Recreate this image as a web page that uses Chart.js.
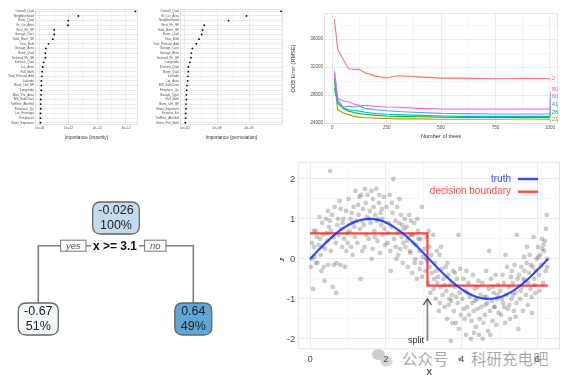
<!DOCTYPE html>
<html><head><meta charset="utf-8">
<script src="https://cdn.jsdelivr.net/npm/chart.js@4.4.1/dist/chart.umd.min.js"></script>
<style>
html,body{margin:0;padding:0;background:#fff;width:569px;height:379px;overflow:hidden;font-family:'Liberation Sans',Arial,sans-serif;}
.p{position:absolute;}
#wm{position:absolute;left:372px;top:347px;height:22px;display:flex;align-items:center;color:rgba(110,110,110,0.6);font-family:'Noto Sans CJK SC',sans-serif;font-size:15.5px;white-space:nowrap;z-index:0;}
.cv{z-index:1;}
.b1{position:absolute;width:13px;height:11px;border-radius:50%;background:rgba(130,130,130,0.4);left:0;top:2px;}
.b2{position:absolute;width:11px;height:9px;border-radius:50%;background:rgba(150,150,150,0.4);left:8px;top:9px;border:1px solid rgba(255,255,255,0.5);}
</style></head><body>
<div id="wm"><span style="position:relative;width:24px;height:22px;display:inline-block;"><span class="b1"></span><span class="b2"></span></span><span style="margin-left:6px">公众号 · 科研充电吧</span></div>
<div class="p" style="left:0;top:0;width:145px;height:140px"><canvas id="c1"></canvas></div>
<div class="p" style="left:145px;top:0;width:145px;height:140px"><canvas id="c2"></canvas></div>
<div class="p" style="left:290px;top:0;width:279px;height:140px"><canvas id="c3"></canvas></div>
<div class="p" style="left:0;top:150px;width:280px;height:229px"><canvas id="c4"></canvas></div>
<div class="p" style="left:280px;top:150px;width:289px;height:229px"><canvas id="c5"></canvas></div>
<script>
// ---------- DATA ----------
const impurityVars = ['Overall_Qual','Neighborhood','Exter_Qual','Gr_Liv_Area','First_Flr_SF','Garage_Cars','Total_Bsmt_SF','Year_Built','Garage_Area','Bsmt_Qual','Second_Flr_SF','Kitchen_Qual','Lot_Area','Full_Bath','Year_Remod_Add','Latitude','Bsmt_Unf_SF','Longitude','Mas_Vnr_Area','MS_SubClass','TotRms_AbvGrd','Fireplace_Qu','Lot_Frontage','Fireplaces','Bsmt_Exposure'];
const impurityVals = [3.33e12,1.34e12,0.99e12,0.98e12,0.50e12,0.50e12,0.45e12,0.30e12,0.21e12,0.19e12,0.19e12,0.13e12,0.10e12,0.08e12,0.07e12,0.05e12,0.05e12,0.05e12,0.04e12,0.03e12,0.03e12,0.03e12,0.02e12,0.02e12,0.02e12];
const impurityTicks = [0,1e12,2e12,3e12];
const impurityTickLabels = ['0e+00','1e+12','2e+12','3e+12'];

const permVars = ['Overall_Qual','Gr_Liv_Area','Neighborhood','First_Flr_SF','Total_Bsmt_SF','Exter_Qual','Year_Built','Year_Remod_Add','Garage_Cars','Garage_Area','Second_Flr_SF','Longitude','Kitchen_Qual','Bsmt_Qual','Latitude','Lot_Area','MS_SubClass','Fireplace_Qu','Garage_Type','Full_Bath','Bsmt_Unf_SF','Bsmt_Exposure','Exterior_1st','TotRms_AbvGrd','Bsmt_Full_Bath'];
const permVals = [1.50e9,9.6e8,6.8e8,3.0e8,2.76e8,2.6e8,2.19e8,1.77e8,1.15e8,0.99e8,0.94e8,0.78e8,0.52e8,0.52e8,0.47e8,0.42e8,0.31e8,0.26e8,0.21e8,0.21e8,0.16e8,0.16e8,0.10e8,0.10e8,0.05e8];
const permTicks = [0,5e8,1e9];
const permTickLabels = ['0e+00','5e+08','1e+09'];

const trees = [10,25,50,75,100,125,150,200,250,300,400,500,600,750,900,1000];
const mtryLabels = ['2','21','26','41','60','80'];
const oob_2  = [38850,34500,33080,31750,31650,31700,31190,30710,30480,30760,30600,30430,30420,30340,30400,30340];
const oob_21 = [29900,25890,25420,25200,24950,24850,24750,24700,24650,24600,24600,24550,24550,24550,24580,24550];
const oob_26 = [30380,26800,26100,25700,25500,25350,25250,25100,25000,24950,24900,24850,24800,24800,24800,24780];
const oob_41 = [28960,27000,26200,25900,25800,25700,25550,25350,25250,25200,25100,25000,24950,24950,24950,24950];
const oob_60 = [31180,27400,26300,26400,26300,26450,26100,25900,25750,25650,25500,25380,25350,25300,25300,25280];
const oob_80 = [31460,27600,27150,27050,26700,26550,26500,26400,26300,26250,26100,26000,26000,26000,26000,26000];
const oobLabelY = [30336,24470,25510,26650,27780,28820];
const oobTicksX = [0,250,500,750,1000];
const oobTicksY = [24000,28000,32000,36000];

const treeNodeValues = ['-0.026','-0.67','0.64'];
const treeNodePct = ['100%','51%','49%'];
const treeSplitText = 'x >= 3.1';

const scatterX = [
0.02,0.05,0.08,0.1,0.12,0.15,0.18,0.2,0.22,0.25,0.28,0.3,0.32,0.35,0.38,0.4,0.42,0.45,0.48,0.5,0.05,0.15,0.27,0.36,0.44,0.1,0.33,0.47,
0.52,0.55,0.58,0.6,0.62,0.65,0.68,0.7,0.72,0.75,0.78,0.8,0.82,0.85,0.88,0.9,0.92,0.95,0.98,0.55,0.63,0.74,0.86,0.96,0.53,0.69,0.81,0.99,
1.02,1.05,1.08,1.1,1.12,1.15,1.18,1.2,1.22,1.25,1.28,1.3,1.32,1.35,1.38,1.4,1.42,1.45,1.48,1.5,1.07,1.17,1.27,1.37,1.47,1.12,1.33,1.44,
1.52,1.55,1.58,1.6,1.62,1.65,1.68,1.7,1.72,1.75,1.78,1.8,1.82,1.85,1.88,1.9,1.92,1.95,1.98,1.56,1.66,1.76,1.86,1.96,1.63,1.83,1.71,1.91,
2.02,2.05,2.08,2.1,2.12,2.15,2.18,2.2,2.22,2.25,2.28,2.3,2.32,2.35,2.38,2.4,2.42,2.45,2.48,2.5,2.06,2.16,2.26,2.36,2.46,2.13,2.33,2.43,
2.52,2.55,2.58,2.6,2.62,2.65,2.68,2.7,2.72,2.75,2.78,2.8,2.82,2.85,2.88,2.9,2.92,2.95,2.98,2.56,2.66,2.76,2.86,2.96,2.63,2.83,2.93,2.71,
3.02,3.05,3.08,3.1,3.12,3.15,3.18,3.2,3.22,3.25,3.28,3.3,3.32,3.35,3.38,3.4,3.42,3.45,3.48,3.5,3.06,3.16,3.26,3.36,3.46,3.13,3.33,3.43,
3.52,3.55,3.58,3.6,3.62,3.65,3.68,3.7,3.72,3.75,3.78,3.8,3.82,3.85,3.88,3.9,3.92,3.95,3.98,3.56,3.66,3.76,3.86,3.96,3.63,3.73,3.83,3.93,
4.02,4.05,4.08,4.1,4.12,4.15,4.18,4.2,4.22,4.25,4.28,4.3,4.32,4.35,4.38,4.4,4.42,4.45,4.48,4.5,4.06,4.16,4.26,4.36,4.46,4.13,4.33,4.43,
4.52,4.55,4.58,4.6,4.62,4.65,4.68,4.7,4.72,4.75,4.78,4.8,4.82,4.85,4.88,4.9,4.92,4.95,4.98,4.56,4.66,4.76,4.86,4.96,4.63,4.73,4.83,4.93,
5.02,5.05,5.08,5.1,5.12,5.15,5.18,5.2,5.22,5.25,5.28,5.3,5.32,5.35,5.38,5.4,5.42,5.45,5.48,5.5,5.06,5.16,5.26,5.36,5.46,5.13,5.33,5.43,
5.52,5.55,5.58,5.6,5.62,5.65,5.68,5.7,5.72,5.75,5.78,5.8,5.82,5.85,5.88,5.9,5.92,5.95,5.98,5.56,5.66,5.76,5.86,5.96,5.63,5.73,5.83,5.93,
6.02,6.05,6.08,6.1,6.12,6.15,6.18,6.2,6.22,6.25,6.27,6.06,6.16,6.26,6.03,6.13,6.23];
const scatterY = [
-0.2,0.4,-0.75,0.3,0.05,0.7,0.55,-0.1,0.35,1.05,0.1,-0.3,0.9,0.6,-0.55,0.25,1.0,0.45,-0.15,0.8,0.0,-0.1,0.5,-0.2,0.65,0.7,0.3,1.2,
0.95,0.2,1.1,-0.7,0.55,1.3,0.4,-0.1,0.85,0.6,1.45,-0.15,0.75,0.3,1.0,0.5,-0.2,1.2,0.65,0.7,-0.15,1.0,0.9,0.2,2.2,-0.85,1.25,0.4,
1.5,0.7,0.3,1.15,0.9,1.3,0.55,1.7,0.95,0.4,1.1,1.55,0.75,1.6,0.2,1.25,0.85,1.75,0.6,1.05,1.0,0.8,1.35,0.95,1.4,0.1,-0.5,0.3,
1.6,0.5,1.2,0.9,1.7,0.25,1.3,0.7,1.1,1.75,0.45,1.0,1.4,0.15,0.85,1.25,0.6,1.55,0.35,1.0,1.5,0.95,1.15,0.75,0.0,1.6,0.55,1.0,
1.3,0.4,0.9,1.6,0.2,0.8,1.15,2.0,0.5,0.95,0.0,1.3,0.65,0.9,0.25,1.1,0.55,-0.1,0.75,1.0,0.65,1.4,0.3,1.5,0.4,-0.3,0.1,0.85,
0.3,0.8,-0.2,0.55,1.1,0.15,0.6,-0.35,0.4,0.9,0.0,0.35,-0.5,0.7,0.2,-0.25,0.5,1.3,0.05,0.45,0.95,-0.1,0.5,-0.45,0.2,1.0,-0.1,0.6,
0.25,-0.3,0.55,-0.05,-0.6,0.3,-0.85,0.1,-0.35,0.6,-0.5,-0.1,-1.0,0.2,-0.45,-1.3,0.1,-0.7,-0.25,-0.9,0.0,-0.2,-0.75,-0.6,0.3,0.7,-0.3,-1.1,
-0.5,-1.2,-0.2,-0.8,-1.5,-0.4,-1.0,-0.65,-2.05,-0.9,-0.3,-1.3,-0.7,-1.6,-0.5,-1.1,0.6,-0.85,-1.4,-0.65,-1.15,-1.6,-0.95,-0.25,-0.1,-1.05,-0.35,-1.75,
-1.0,-0.5,-1.5,-0.8,-1.9,-1.2,-0.6,-1.4,-0.95,-2.0,-1.1,-0.4,-1.3,-0.75,-1.7,-1.0,-1.25,-0.55,-1.5,-0.9,-1.25,-0.85,-1.55,-1.05,-1.9,-0.3,-1.85,-0.7,
-1.2,-0.6,-1.6,-0.95,-1.4,-0.3,-1.1,-1.8,-0.75,-1.3,-0.5,-1.05,-1.55,-0.85,-1.2,-0.4,-1.65,-0.9,-1.35,-2.0,-0.95,-1.9,-1.2,-0.65,-1.15,0.2,-0.7,-1.0,
-0.8,-1.4,-0.4,-1.1,-0.6,-1.6,-0.9,-0.2,-1.25,-0.7,-1.5,-0.45,-1.0,-0.6,-1.3,-0.15,-0.85,-1.1,-0.5,-1.75,-1.0,0.1,-1.15,-0.9,0.6,-1.2,-0.3,-1.45,
-0.4,-1.0,-0.2,-0.7,-1.3,0.05,-0.55,-0.9,-0.1,-1.15,-0.35,0.1,-0.75,-0.95,-0.2,0.55,-0.5,-0.85,0.0,-0.8,-0.3,-0.6,-1.35,-0.3,-0.5,0.3,-0.15,-0.65,
0.3,-0.4,0.1,-0.15,0.5,-0.6,0.2,0.45,-0.3,1.1,0.0,-0.8,0.35,-0.2,0.05,0.25,0.75];
const truthX = [0,0.2,0.4,0.6,0.8,1.0,1.2,1.4,1.6,1.8,2.0,2.2,2.4,2.6,2.8,3.0,3.2,3.4,3.6,3.8,4.0,4.2,4.4,4.6,4.8,5.0,5.2,5.4,5.6,5.8,6.0,6.2,6.28];
const truthY = [0,0.199,0.389,0.565,0.717,0.841,0.932,0.985,1.0,0.974,0.909,0.808,0.675,0.516,0.335,0.141,-0.058,-0.256,-0.443,-0.612,-0.757,-0.872,-0.952,-0.994,-0.996,-0.959,-0.883,-0.773,-0.631,-0.465,-0.279,-0.083,0.0];
const stepX = [0,3.1,3.1,6.28];
const stepY = [0.64,0.64,-0.67,-0.67];
const splitArrowX = [3.1,3.1];
const splitArrowY = [-2.05,-1.0];
const scatterTicksX = [0,2,4,6];
const scatterTicksY = [-2,-1,0,1,2];

// ---------- HELPERS ----------
const FONT = "'Liberation Sans', Arial, sans-serif";
Chart.defaults.font.family = FONT;
Chart.defaults.animation = false;
const GRID_MAJ = '#e6e6e6', GRID_MIN = '#f3f3f3', TICKC = '#4d4d4d';

const panelBorder = {
  id: 'panelBorder',
  beforeDatasetsDraw(chart, args, opts) {
    if (!opts || !opts.color) return;
    const a = chart.chartArea, c = chart.ctx;
    c.save(); c.strokeStyle = opts.color; c.lineWidth = 0.8;
    c.strokeRect(a.left + 0.5, a.top + 0.5, a.right - a.left - 1, a.bottom - a.top - 1);
    c.restore();
  }
};
Chart.register(panelBorder);

function withMinor(ticks) {
  const out = [];
  for (let i = 0; i < ticks.length; i++) {
    out.push(ticks[i]);
    if (i < ticks.length - 1) out.push((ticks[i] + ticks[i + 1]) / 2);
  }
  return out;
}

function linearAxis(min, max, majors, labels, extraMinor, fontSize, fixedSize, dim) {
  let all = withMinor(majors).concat(extraMinor || []);
  all = all.filter(v => v >= min && v <= max).sort((a, b) => a - b);
  return {
    type: 'linear', min: min, max: max,
    afterBuildTicks: s => { s.ticks = all.map(v => ({ value: v })); },
    ticks: {
      autoSkip: false, maxRotation: 0, color: TICKC, font: { size: fontSize }, padding: 1,
      callback: v => { const k = majors.indexOf(v); return k >= 0 ? labels[k] : ''; }
    },
    grid: { drawTicks: false, color: ctx => (majors.indexOf(ctx.tick.value) >= 0 ? GRID_MAJ : GRID_MIN), lineWidth: 0.8 },
    border: { display: false },
    afterFit: s => { if (dim === 'h') s.height = fixedSize; else s.width = fixedSize; }
  };
}

// ---------- DOT CHARTS ----------
function dotChart(id, vars, vals, xMin, xMax, ticks, tickLabels, title, extraMinor) {
  const x = linearAxis(xMin, xMax, ticks, tickLabels, extraMinor, 3.2, 15, 'h');
  x.title = { display: true, text: title, color: '#333', font: { size: 4.6 }, padding: { top: 1, bottom: 0 } };
  new Chart(document.getElementById(id), {
    type: 'line',
    data: { labels: vars, datasets: [{ data: vals, showLine: false, pointRadius: 0.9, pointBackgroundColor: '#000', pointBorderWidth: 0 }] },
    options: {
      indexAxis: 'y', responsive: true, maintainAspectRatio: false,
      layout: { padding: { left: 0, right: 7, top: 9, bottom: 0 } },
      plugins: { legend: { display: false }, tooltip: { enabled: false }, panelBorder: { color: '#dcdcdc' } },
      scales: {
        x: x,
        y: {
          type: 'category', offset: true,
          ticks: { autoSkip: false, color: TICKC, font: { size: 3.2 }, padding: 1 },
          grid: { drawTicks: false, offset: false, color: GRID_MAJ, lineWidth: 0.8 },
          border: { display: false },
          afterFit: s => { s.width = 35; }
        }
      }
    }
  });
}
dotChart('c1', impurityVars, impurityVals, -0.17e12, 3.42e12, impurityTicks, impurityTickLabels, 'Importance (impurity)', []);
dotChart('c2', permVars, permVals, -0.78e8, 15.3e8, permTicks, permTickLabels, 'Importance (permutation)', [1.5e9]);

// ---------- OOB LINE CHART ----------
const oobSeries = [oob_2, oob_21, oob_26, oob_41, oob_60, oob_80];
const oobColors = ['#F8766D', '#B79F00', '#00BA38', '#00BFC4', '#619CFF', '#F564E3'];
const oobLabelPlugin = {
  id: 'oobLabels',
  afterDatasetsDraw(chart) {
    const c = chart.ctx, xs = chart.scales.x, ys = chart.scales.y;
    c.save();
    oobSeries.forEach((s, i) => {
      const x0 = xs.getPixelForValue(trees[trees.length - 1]), y0 = ys.getPixelForValue(s[s.length - 1]);
      const x1 = xs.getPixelForValue(1008), y1 = ys.getPixelForValue(oobLabelY[i]);
      c.strokeStyle = oobColors[i]; c.lineWidth = 0.8;
      c.beginPath(); c.moveTo(x0, y0); c.lineTo(x1 - 1, y1 + 2); c.stroke();
      c.fillStyle = oobColors[i]; c.font = '6px ' + FONT; c.textAlign = 'left'; c.textBaseline = 'middle';
      c.fillText(mtryLabels[i], x1, y1);
    });
    c.restore();
  }
};
const oobX = linearAxis(-38, 1037, oobTicksX, oobTicksX.map(String), [], 4.5, 16, 'h');
oobX.title = { display: true, text: 'Number of trees', color: '#333', font: { size: 5.6 }, padding: { top: 1, bottom: 0 } };
const oobY = linearAxis(23860, 39740, oobTicksY, oobTicksY.map(String), [38000], 4.5, 34, 'w');
oobY.title = { display: true, text: 'OOB Error (RMSE)', color: '#333', font: { size: 5.6 }, padding: { top: 0, bottom: 2 } };
new Chart(document.getElementById('c3'), {
  type: 'line',
  data: {
    datasets: oobSeries.map((s, i) => ({
      label: mtryLabels[i], data: trees.map((t, k) => ({ x: t, y: s[k] })),
      borderColor: oobColors[i], borderWidth: 1.1, pointRadius: 0, tension: 0, order: 6 - i
    }))
  },
  options: {
    responsive: true, maintainAspectRatio: false,
    layout: { padding: { left: 0, right: 11, top: 13, bottom: 0 } },
    plugins: { legend: { display: false }, tooltip: { enabled: false }, panelBorder: { color: '#e0e0e0' } },
    scales: { x: oobX, y: oobY }
  },
  plugins: [oobLabelPlugin]
});

// ---------- DECISION TREE ----------
const treeNodeX = [116, 38.3, 193.3];
const treeNodeY = [68, 169, 169];
const treeNodeW = [46.6, 40, 37];
const treeNodeFill = ['#c4daef', '#f5f9fd', '#5fa7d5'];
const connX = [38.3, 38.3, 193.3, 193.3];
const connY = [153, 95.7, 95.7, 153];
function roundRect(c, x, y, w, h, r) {
  c.beginPath(); c.moveTo(x + r, y); c.lineTo(x + w - r, y); c.quadraticCurveTo(x + w, y, x + w, y + r);
  c.lineTo(x + w, y + h - r); c.quadraticCurveTo(x + w, y + h, x + w - r, y + h);
  c.lineTo(x + r, y + h); c.quadraticCurveTo(x, y + h, x, y + h - r);
  c.lineTo(x, y + r); c.quadraticCurveTo(x, y, x + r, y); c.closePath();
}
const treePlugin = {
  id: 'treeNodes',
  afterDatasetsDraw(chart) {
    const c = chart.ctx, xs = chart.scales.x, ys = chart.scales.y;
    c.save();
    const sx = xs.getPixelForValue(115), sy = ys.getPixelForValue(95.7);
    c.font = 'bold 12px ' + FONT; c.textAlign = 'center'; c.textBaseline = 'middle';
    const tw = c.measureText(treeSplitText).width;
    c.fillStyle = '#fff'; c.fillRect(sx - tw / 2 - 2, sy - 7, tw + 4, 14);
    c.fillStyle = '#111'; c.fillText(treeSplitText, sx, sy + 0.5);
    [['yes', 73.3, 25.3], ['no', 155.3, 21.3]].forEach(b => {
      const bx = xs.getPixelForValue(b[1]), w = b[2];
      c.fillStyle = '#fff'; c.strokeStyle = '#777'; c.lineWidth = 1;
      c.fillRect(bx - w / 2, sy - 5.5, w, 11); c.strokeRect(bx - w / 2, sy - 5.5, w, 11);
      c.fillStyle = '#555'; c.font = 'italic 9.5px ' + FONT; c.fillText(b[0], bx, sy + 0.5);
    });
    treeNodeValues.forEach((v, i) => {
      const cx = xs.getPixelForValue(treeNodeX[i]), cy = ys.getPixelForValue(treeNodeY[i]);
      const w = treeNodeW[i], h = 32;
      roundRect(c, cx - w / 2, cy - h / 2, w, h, 8);
      c.fillStyle = treeNodeFill[i]; c.fill();
      c.strokeStyle = '#666'; c.lineWidth = 1.3; c.stroke();
      c.fillStyle = '#222'; c.font = '12.5px ' + FONT;
      c.fillText(v, cx, cy - 7); c.fillText(treeNodePct[i], cx, cy + 8);
    });
    c.restore();
  }
};
new Chart(document.getElementById('c4'), {
  type: 'scatter',
  data: { datasets: [{ data: connX.map((x, i) => ({ x: x, y: connY[i] })), showLine: true, borderColor: '#808080', borderWidth: 1.6, pointRadius: 0 }] },
  options: {
    responsive: true, maintainAspectRatio: false,
    layout: { padding: 0 },
    plugins: { legend: { display: false }, tooltip: { enabled: false } },
    scales: {
      x: { type: 'linear', min: 0, max: 280, display: false },
      y: { type: 'linear', min: 0, max: 229, reverse: true, display: false }
    }
  },
  plugins: [treePlugin]
});

// ---------- SCATTER / SPLIT ----------
const TRUTH_C = 'rgba(20,50,255,0.88)', STEP_C = 'rgba(255,25,20,0.8)';
const scatterPlugin = {
  id: 'scatterExtras',
  afterDatasetsDraw(chart) {
    const c = chart.ctx, xs = chart.scales.x, ys = chart.scales.y;
    c.save();
    const ax = xs.getPixelForValue(splitArrowX[1]), ay = ys.getPixelForValue(splitArrowY[1]);
    c.strokeStyle = '#4a4a4a'; c.lineWidth = 1.3;
    c.beginPath(); c.moveTo(ax - 4, ay + 6); c.lineTo(ax, ay); c.lineTo(ax + 4, ay + 6); c.stroke();
    c.fillStyle = '#333'; c.font = '9px ' + FONT; c.textAlign = 'center'; c.textBaseline = 'middle';
    c.fillText('split', xs.getPixelForValue(2.8), ys.getPixelForValue(-2.03));
    const lx = 231, items = [['truth', TRUTH_C, 29], ['decision boundary', STEP_C, 41.7]];
    items.forEach(it => {
      c.font = '10px ' + FONT; c.textAlign = 'right'; c.fillStyle = it[1];
      c.fillText(it[0], lx, it[2]);
      c.strokeStyle = it[1]; c.lineWidth = 2.4;
      c.beginPath(); c.moveTo(lx + 7, it[2]); c.lineTo(lx + 27, it[2]); c.stroke();
    });
    c.fillStyle = '#222'; c.font = '11px ' + FONT; c.textAlign = 'center';
    c.translate(-1, ys.getPixelForValue(0)); c.rotate(-Math.PI / 2); c.fillText('y', 0, 0);
    c.restore();
  }
};
const sx5 = linearAxis(-0.31, 6.6, scatterTicksX, scatterTicksX.map(String), [], 9.5, 29.7, 'h');
sx5.ticks.padding = 4;
sx5.title = { display: true, text: 'x', color: '#222', font: { size: 11 }, padding: { top: 0, bottom: 0 } };
const sy5 = linearAxis(-2.26, 2.43, scatterTicksY, scatterTicksY.map(String), [], 9.5, 18.3, 'w');
sy5.ticks.padding = 3;
new Chart(document.getElementById('c5'), {
  type: 'scatter',
  data: {
    datasets: [
      { data: scatterX.map((x, i) => ({ x: x, y: scatterY[i] })), pointRadius: 2.4, pointBorderWidth: 0, pointBackgroundColor: 'rgba(0,0,0,0.2)', order: 4 },
      { data: truthX.map((x, i) => ({ x: x, y: truthY[i] })), showLine: true, borderColor: TRUTH_C, borderWidth: 2.2, pointRadius: 0, tension: 0.4, order: 2 },
      { data: stepX.map((x, i) => ({ x: x, y: stepY[i] })), showLine: true, borderColor: STEP_C, borderWidth: 2.2, pointRadius: 0, tension: 0, order: 3 },
      { data: splitArrowX.map((x, i) => ({ x: x, y: splitArrowY[i] })), showLine: true, borderColor: '#8a8a8a', borderWidth: 1.8, pointRadius: 0, order: 1 }
    ]
  },
  options: {
    responsive: true, maintainAspectRatio: false,
    layout: { padding: { left: 0, right: 9, top: 11.7, bottom: 0 } },
    plugins: { legend: { display: false }, tooltip: { enabled: false }, panelBorder: { color: '#dedede' } },
    scales: { x: sx5, y: sy5 }
  },
  plugins: [scatterPlugin]
});
</script>
</body></html>
